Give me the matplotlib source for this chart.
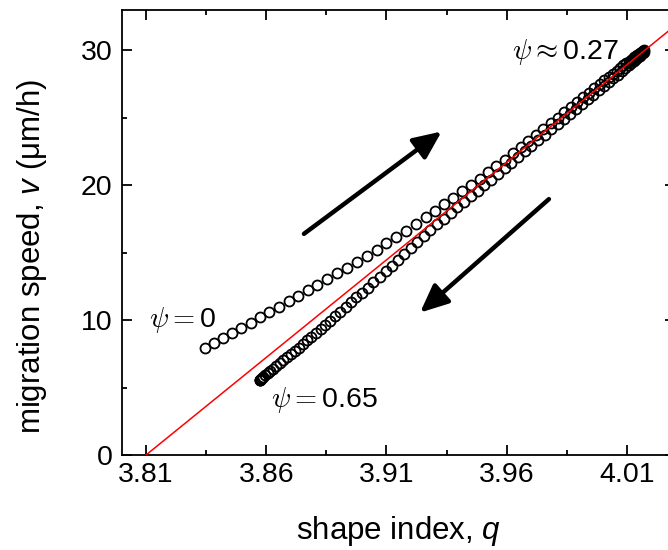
import matplotlib
matplotlib.use('Agg')
import matplotlib.pyplot as plt
from matplotlib.ticker import FixedLocator, AutoMinorLocator

plt.rcParams['font.family'] = ['Liberation Sans', 'DejaVu Sans']
plt.rcParams['mathtext.fontset'] = 'custom'
plt.rcParams['mathtext.rm'] = 'Liberation Sans'
plt.rcParams['mathtext.it'] = 'Liberation Sans:italic'

# forward branch, psi going 0 -> 0.27
q_up = [3.8345, 3.8382, 3.8420, 3.8458, 3.8496, 3.8535, 3.8574, 3.8613, 3.8653, 3.8693,
        3.8733, 3.8773, 3.8813, 3.8854, 3.8895, 3.8936, 3.8977, 3.9018, 3.9059, 3.9100,
        3.9141, 3.9182, 3.9223, 3.9263, 3.9302, 3.9340, 3.9378, 3.9415, 3.9451, 3.9487,
        3.9522, 3.9557, 3.9591, 3.9625, 3.9658, 3.9690, 3.9722, 3.9753, 3.9783, 3.9812,
        3.9840, 3.9867, 3.9893, 3.9918, 3.9942, 3.9965, 3.9986, 4.0006, 4.0025, 4.0042,
        4.0058, 4.0072, 4.0085, 4.0097, 4.0107, 4.0116, 4.0124, 4.0131, 4.0137, 4.0142,
        4.0147, 4.0151, 4.0155, 4.0158, 4.0161, 4.0164, 4.0166, 4.0168, 4.0170]
v_up = [7.97, 8.33, 8.70, 9.07, 9.44, 9.82, 10.21, 10.59, 10.99, 11.39,
        11.79, 12.20, 12.61, 13.03, 13.46, 13.90, 14.33, 14.77, 15.23, 15.69,
        16.15, 16.64, 17.13, 17.62, 18.10, 18.58, 19.07, 19.55, 20.02, 20.50,
        20.97, 21.44, 21.91, 22.37, 22.82, 23.27, 23.72, 24.16, 24.59, 25.01,
        25.41, 25.80, 26.17, 26.53, 26.87, 27.20, 27.50, 27.78, 28.05, 28.29,
        28.51, 28.71, 28.89, 29.05, 29.18, 29.30, 29.40, 29.50, 29.57, 29.64,
        29.70, 29.75, 29.80, 29.84, 29.88, 29.92, 29.95, 29.97, 30.00]

# backward branch, psi going 0.27 -> 0.65
q_down = [4.0169, 4.0165, 4.0160, 4.0154, 4.0147, 4.0139, 4.0130, 4.0119, 4.0107, 4.0093,
          4.0078, 4.0061, 4.0043, 4.0024, 4.0004, 3.9983, 3.9961, 3.9938, 3.9914, 3.9889,
          3.9864, 3.9838, 3.9812, 3.9785, 3.9758, 3.9731, 3.9703, 3.9675, 3.9647, 3.9619,
          3.9591, 3.9563, 3.9535, 3.9507, 3.9479, 3.9451, 3.9423, 3.9395, 3.9367, 3.9339,
          3.9311, 3.9283, 3.9255, 3.9228, 3.9201, 3.9174, 3.9148, 3.9122, 3.9096, 3.9071,
          3.9046, 3.9022, 3.8998, 3.8975, 3.8952, 3.8930, 3.8908, 3.8887, 3.8866, 3.8846,
          3.8826, 3.8807, 3.8788, 3.8770, 3.8752, 3.8735, 3.8718, 3.8702, 3.8686, 3.8671,
          3.8656, 3.8642, 3.8629, 3.8617, 3.8606, 3.8596, 3.8588, 3.8582, 3.8578, 3.8575,
          3.8573, 3.8572]
v_down = [29.89, 29.81, 29.72, 29.62, 29.51, 29.39, 29.24, 29.08, 28.89, 28.68,
          28.45, 28.21, 27.94, 27.66, 27.36, 27.06, 26.73, 26.40, 26.04, 25.68,
          25.31, 24.93, 24.54, 24.14, 23.74, 23.34, 22.92, 22.51, 22.09, 21.68,
          21.27, 20.85, 20.43, 20.02, 19.60, 19.19, 18.77, 18.36, 17.94, 17.53,
          17.11, 16.67, 16.21, 15.78, 15.33, 14.89, 14.47, 14.05, 13.62, 13.21,
          12.81, 12.42, 12.04, 11.68, 11.32, 10.97, 10.62, 10.29, 9.96, 9.65,
          9.35, 9.05, 8.77, 8.50, 8.23, 7.97, 7.71, 7.47, 7.24, 7.01,
          6.79, 6.58, 6.39, 6.21, 6.05, 5.90, 5.78, 5.69, 5.63, 5.58,
          5.55, 5.54]

# linear fit v = k (q - q0)
fit_q = [3.81, 4.04]
fit_v = [0.0, 33.28]

xticks = [3.81, 3.86, 3.91, 3.96, 4.01]
yticks = [0, 10, 20, 30]

fig = plt.figure(figsize=(6.68, 5.5), dpi=100)
ax = fig.add_axes([122 / 668, 95 / 550, 553 / 668, 445 / 550])

ax.plot(q_up, v_up, 'o', ms=7.2, mfc='none', mec='black', mew=1.3, zorder=2)
ax.plot(q_down, v_down, 'o', ms=7.2, mfc='none', mec='black', mew=1.3, zorder=2)
ax.plot(fit_q, fit_v, '-', color='red', lw=1.1, zorder=3)

ax.set_xlim(3.80, 4.03)
ax.set_ylim(0, 33)
ax.xaxis.set_major_locator(FixedLocator(xticks))
ax.yaxis.set_major_locator(FixedLocator(yticks))
ax.xaxis.set_minor_locator(AutoMinorLocator(2))
ax.yaxis.set_minor_locator(AutoMinorLocator(2))
ax.set_xticklabels([f'{t:.2f}' for t in xticks])
ax.tick_params(which='both', direction='in', top=True, right=True, width=1.3, labelsize=20.5)
ax.tick_params(which='major', length=7)
ax.tick_params(which='minor', length=3.5)
ax.tick_params(axis='x', pad=5)
ax.tick_params(axis='y', pad=7)
for sp in ax.spines.values():
    sp.set_linewidth(1.3)

ax.set_xlabel(r'shape index, $\mathit{q}$', fontsize=22.5, va='center')
ax.set_ylabel(r'migration speed, $\mathit{v}$ ($\mathrm{\mu}$m/h)', fontsize=22.5, va='center')
ax.xaxis.set_label_coords(0.50, -0.17)
ax.yaxis.set_label_coords(-0.163, 0.447)

ax.text(0.049, 0.303, r'$\psi = $0', transform=ax.transAxes, fontsize=20.5,
        ha='left', va='center', math_fontfamily='cm')
ax.text(0.269, 0.124, r'$\psi = $0.65', transform=ax.transAxes, fontsize=20.5,
        ha='left', va='center', math_fontfamily='cm')
ax.text(0.705, 0.906, r'$\psi \approx $0.27', transform=ax.transAxes, fontsize=20.5,
        ha='left', va='center', math_fontfamily='cm')

arrow = dict(arrowstyle='-|>,head_length=0.85,head_width=0.38', lw=3.2, color='black',
             mutation_scale=20, shrinkA=0, shrinkB=0)
ax.annotate('', xy=(0.578, 0.727), xytext=(0.329, 0.497), xycoords='axes fraction',
            textcoords='axes fraction', arrowprops=arrow)
ax.annotate('', xy=(0.539, 0.320), xytext=(0.772, 0.575), xycoords='axes fraction',
            textcoords='axes fraction', arrowprops=arrow)

fig.savefig('out.png', dpi=100)
